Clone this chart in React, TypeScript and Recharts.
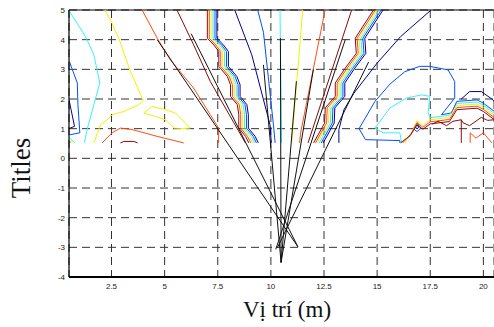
import { LineChart, Line, XAxis, YAxis, CartesianGrid, ReferenceLine, Label } from 'recharts'

type Pt = [number, number]

const xTicks = [2.5, 5, 7.5, 10, 12.5, 15, 17.5, 20]
const yTicks = [-4, -3, -2, -1, 0, 1, 2, 3, 4, 5]

const NAVY = '#00008c'
const BLUE = '#0050ff'
const CYAN = '#38f2f2'
const YELLOW = '#f2f200'
const RED = '#ff4a18'
const MAROON = '#8a0a0a'
const BLACK = '#111'

// left part of the field
const cyanLeft: Pt[] = [[0.51, 4.97], [1.28, 4.1], [1.67, 3.49], [1.95, 2.54], [1.67, 1.81], [1.33, 0.91], [1.23, 0.52]]
const blueLeft: Pt[] = [[0.52, 3.26], [0.89, 2.54], [0.92, 1.81], [1.01, 0.86], [0.58, 0.8], [0.5, 0.8]]
const navyLeft: Pt[] = [[0.5, 1.97], [0.76, 1.08], [0.5, 1.0]]
const cyanCorner: Pt[] = [[0.5, 0.7], [0.78, 0.52]]
const yellowCorner: Pt[] = [[0.5, 0.62], [0.66, 0.52]]
const redCorner: Pt[] = [[0.5, 0.57], [0.57, 0.52]]
const yellowLeft: Pt[] = [[2.19, 5], [2.53, 4.55], [2.84, 4.05], [3.39, 2.93], [3.63, 2.54], [3.99, 1.94], [3.78, 1.81], [3.08, 1.58], [2.53, 1.47], [2.3, 1.3], [1.98, 1.13], [1.67, 0.52]]
const yellowLoop: Pt[] = [[4.02, 1.53], [4.41, 1.75], [5.04, 1.64], [5.5, 1.53], [6.21, 1.02], [5.5, 0.99], [5.04, 1.3], [4.57, 1.41], [4.02, 1.53]]
const redLow: Pt[] = [[2.06, 0.52], [2.53, 0.86], [2.92, 1.02], [3.47, 0.97], [4.65, 0.74], [5.9, 0.52]]
const maroonSmall: Pt[] = [[2.92, 0.52], [3.08, 0.57], [3.55, 0.57], [3.73, 0.52]]
const redDiag: Pt[] = [[3.94, 5], [4.65, 4.05], [5.27, 3.32], [6.36, 2.37], [7.15, 1.47], [7.54, 1.02], [7.54, 0.52]]
const maroonDiag: Pt[] = [[5.58, 5], [6.35, 3.85], [7.15, 2.59], [8.8, 0.52]]

// left stepped band
const bandYs = [5, 4.05, 3.82, 3.6, 3.1, 2.76, 2.48, 2.09, 1.81, 1.47, 1.02, 0.74, 0.52]
const bandLMaroon = [7.01, 7.01, 7.32, 7.55, 7.55, 7.95, 8.1, 8.1, 8.42, 8.49, 8.49, 8.81, 8.96]
const bandLRed = [7.1, 7.1, 7.41, 7.64, 7.64, 8.04, 8.19, 8.19, 8.51, 8.58, 8.58, 8.9, 9.05]
const bandLYellow = [7.19, 7.19, 7.5, 7.73, 7.73, 8.13, 8.28, 8.28, 8.6, 8.67, 8.67, 8.99, 9.14]
const bandLCyan = [7.28, 7.28, 7.59, 7.82, 7.82, 8.22, 8.37, 8.37, 8.69, 8.76, 8.76, 9.08, 9.23]
const bandLBlue = [7.37, 7.37, 7.68, 7.91, 7.91, 8.31, 8.46, 8.46, 8.78, 8.85, 8.85, 9.17, 9.32]
const bandLNavy = [7.46, 7.46, 7.77, 8.0, 8.0, 8.4, 8.55, 8.55, 8.87, 8.94, 8.94, 9.26, 9.41]

// centre fan
const navyFan: Pt[] = [[8.3, 5], [9.1, 3.49], [9.96, 1.13], [10.02, 0.52]]
const blueFan: Pt[] = [[9.38, 5], [9.65, 4.25], [10.12, 1.13], [10.2, 0.52]]
const cyanFan: Pt[] = [[10.43, 5], [10.5, 0.52]]
const yellowFan: Pt[] = [[11.5, 5], [10.98, 0.52]]
const redFan: Pt[] = [[12.55, 5], [11.4, 0.86], [11.35, 0.52]]
const maroonFan: Pt[] = [[13.8, 5], [11.75, 0.52]]

// right stepped band
const bandRYs = [5, 4.05, 3.54, 3.04, 2.54, 2.09, 1.7, 1.19, 0.52]
const bandRMaroon = [14.83, 13.97, 14.02, 13.5, 13.03, 13.03, 12.56, 12.53, 12.01]
const bandRRed = [14.92, 14.06, 14.11, 13.59, 13.12, 13.12, 12.65, 12.62, 12.1]
const bandRYellow = [15.01, 14.15, 14.2, 13.68, 13.21, 13.21, 12.74, 12.71, 12.19]
const bandRCyan = [15.1, 14.24, 14.29, 13.77, 13.3, 13.3, 12.83, 12.8, 12.28]
const bandRBlue = [15.19, 14.33, 14.38, 13.86, 13.39, 13.39, 12.92, 12.89, 12.37]
const bandRNavy = [15.28, 14.42, 14.47, 13.95, 13.48, 13.48, 13.01, 12.98, 12.46]

// right part of the field
const navyRight: Pt[] = [[17.54, 5], [16.1, 4.1], [15.0, 3.21], [13.91, 2.2], [13.44, 1.64], [13.2, 0.97], [13.2, 0.52]]
const blueLoop: Pt[] = [[16.07, 0.52], [16.07, 0.6], [14.45, 0.63], [14.15, 1.0], [14.9, 1.92], [15.6, 2.5], [16.3, 2.92], [17.0, 3.1], [17.48, 3.1], [18.34, 2.98], [18.65, 2.59], [18.65, 2.03], [18.03, 1.47], [18.5, 1.53]]
const cyanLoop: Pt[] = [[16.15, 0.52], [16.07, 0.86], [15.28, 0.86], [14.9, 1.02], [15.6, 1.7], [16.38, 2.03], [17.09, 2.14], [17.48, 2.09], [17.4, 1.53], [17.5, 1.37]]
const navySmall: Pt[] = [[16.8, 1.06], [16.88, 1.13], [16.96, 1.05], [16.88, 0.99], [16.8, 1.06]]
const blueSmall: Pt[] = [[16.7, 1.0], [16.88, 1.2], [17.05, 1.02], [16.88, 0.9], [16.7, 1.0]]
const bandCyan: Pt[] = [[17.5, 1.37], [18.4, 1.45], [18.75, 1.85], [19.7, 1.9], [20.0, 1.79], [20.5, 1.52]]
const bandBlue: Pt[] = [[18.5, 1.53], [18.75, 1.92], [19.7, 1.97], [20.0, 1.86], [20.5, 1.59]]
const bandNavy: Pt[] = [[18.95, 1.99], [19.35, 2.25], [19.9, 2.25], [20.4, 2.0], [20.5, 1.93]]
const bandYellow: Pt[] = [[16.3, 0.52], [16.65, 0.9], [16.88, 1.27], [17.15, 1.12], [17.5, 1.3], [18.4, 1.38], [18.75, 1.78], [19.7, 1.83], [20.0, 1.72], [20.5, 1.45]]
const bandRed: Pt[] = [[16.2, 0.52], [16.6, 0.83], [16.88, 1.2], [17.15, 1.05], [17.5, 1.23], [18.4, 1.31], [18.75, 1.71], [19.7, 1.76], [20.0, 1.65], [20.5, 1.38]]
const bandMaroon: Pt[] = [[16.1, 0.52], [16.55, 0.76], [16.88, 1.13], [17.15, 0.98], [17.5, 1.16], [18.4, 1.24], [18.75, 1.64], [19.7, 1.69], [20.0, 1.58], [20.5, 1.31]]
const maroonZig: Pt[] = [[17.6, 1.15], [17.87, 1.25], [18.26, 1.1], [18.57, 1.25], [18.96, 1.3], [19.04, 1.2], [19.35, 1.1], [19.9, 1.38], [20.2, 1.28], [20.5, 1.3]]
const maroonDrop: Pt[] = [[18.96, 1.3], [18.96, 0.52]]
const redLowRight: Pt[] = [[19.38, 0.52], [19.38, 0.86], [19.65, 0.68], [20.0, 0.86], [20.4, 0.52]]

// black ray paths
const rays: Pt[][] = [
  [[4.65, 4.0], [11.27, -2.98]],
  [[6.25, 4.2], [11.27, -2.98]],
  [[9.65, 3.15], [10.48, -3.51]],
  [[10.45, 4.05], [10.48, -3.51]],
  [[11.2, 2.6], [10.48, -3.51]],
  [[12.0, 3.0], [10.48, -3.51]],
  [[13.5, 4.0], [10.23, -3.07]],
  [[14.6, 3.25], [10.3, -3.02]],
]

const pts = (a: Pt[]) => a.map(([x, y]) => ({ x, y }))
const col = (xs: number[], ys: number[]) => xs.map((x, i) => ({ x, y: ys[i] }))

const contours: { data: { x: number; y: number }[]; color: string }[] = [
  { data: pts(cyanLeft), color: CYAN },
  { data: pts(blueLeft), color: BLUE },
  { data: pts(navyLeft), color: NAVY },
  { data: pts(cyanCorner), color: CYAN },
  { data: pts(yellowCorner), color: YELLOW },
  { data: pts(redCorner), color: RED },
  { data: pts(yellowLeft), color: YELLOW },
  { data: pts(yellowLoop), color: YELLOW },
  { data: pts(redLow), color: RED },
  { data: pts(maroonSmall), color: MAROON },
  { data: pts(redDiag), color: RED },
  { data: pts(maroonDiag), color: MAROON },
  { data: col(bandLMaroon, bandYs), color: MAROON },
  { data: col(bandLRed, bandYs), color: RED },
  { data: col(bandLYellow, bandYs), color: YELLOW },
  { data: col(bandLCyan, bandYs), color: CYAN },
  { data: col(bandLBlue, bandYs), color: BLUE },
  { data: col(bandLNavy, bandYs), color: NAVY },
  { data: pts(navyFan), color: NAVY },
  { data: pts(blueFan), color: BLUE },
  { data: pts(cyanFan), color: CYAN },
  { data: pts(yellowFan), color: YELLOW },
  { data: pts(redFan), color: RED },
  { data: pts(maroonFan), color: MAROON },
  { data: col(bandRMaroon, bandRYs), color: MAROON },
  { data: col(bandRRed, bandRYs), color: RED },
  { data: col(bandRYellow, bandRYs), color: YELLOW },
  { data: col(bandRCyan, bandRYs), color: CYAN },
  { data: col(bandRBlue, bandRYs), color: BLUE },
  { data: col(bandRNavy, bandRYs), color: NAVY },
  { data: pts(navyRight), color: NAVY },
  { data: pts(blueLoop), color: BLUE },
  { data: pts(cyanLoop), color: CYAN },
  { data: pts(navySmall), color: NAVY },
  { data: pts(blueSmall), color: BLUE },
  { data: pts(bandCyan), color: CYAN },
  { data: pts(bandBlue), color: BLUE },
  { data: pts(bandNavy), color: NAVY },
  { data: pts(bandYellow), color: YELLOW },
  { data: pts(bandRed), color: RED },
  { data: pts(bandMaroon), color: MAROON },
  { data: pts(maroonZig), color: MAROON },
  { data: pts(maroonDrop), color: MAROON },
  { data: pts(redLowRight), color: RED },
]

const serif = '"Liberation Serif", "Times New Roman", serif'
const sans = '"Liberation Sans", Arial, sans-serif'

export default function App() {
  return (
    <div style={{ position: 'absolute', left: 0, top: 0, background: '#fff' }}>
      <LineChart width={494} height={327} margin={{ top: 10, right: 0, left: 0, bottom: 0 }}>
        <CartesianGrid stroke="#333" strokeDasharray="8 5" />
        <XAxis
          type="number"
          dataKey="x"
          domain={[0.5, 20.5]}
          ticks={xTicks}
          allowDataOverflow
          height={50}
          tickLine={false}
          tickSize={0}
          tickMargin={6}
          axisLine={{ stroke: '#000', strokeWidth: 2 }}
          tick={{ fontSize: 8, fontFamily: sans, fill: '#222' }}
        >
          <Label
            content={() => (
              <text x={287} y={317} textAnchor="middle" fontSize={23} fontFamily={serif} fill="#111">
                Vị trí (m)
              </text>
            )}
          />
        </XAxis>
        <YAxis
          type="number"
          dataKey="y"
          domain={[-4, 5]}
          ticks={yTicks}
          allowDataOverflow
          width={69}
          tickLine={false}
          tickSize={0}
          tickMargin={4}
          axisLine={{ stroke: '#000', strokeWidth: 1.2 }}
          tick={{ fontSize: 8, fontFamily: sans, fill: '#222' }}
        >
          <Label
            content={() => (
              <text x={30} y={168} transform="rotate(-90 30 168)" textAnchor="middle" fontSize={27} fontFamily={serif} fill="#111">
                Titles
              </text>
            )}
          />
        </YAxis>
        <ReferenceLine y={5} stroke="#000" strokeWidth={1.2} />
        {contours.map((c, i) => (
          <Line
            key={'c' + i}
            data={c.data}
            dataKey="y"
            type="linear"
            stroke={c.color}
            strokeWidth={1}
            dot={false}
            activeDot={false}
            isAnimationActive={false}
          />
        ))}
        {rays.map((r, i) => (
          <Line
            key={'r' + i}
            data={pts(r)}
            dataKey="y"
            type="linear"
            stroke={BLACK}
            strokeWidth={1}
            dot={false}
            activeDot={false}
            isAnimationActive={false}
          />
        ))}
      </LineChart>
    </div>
  )
}
